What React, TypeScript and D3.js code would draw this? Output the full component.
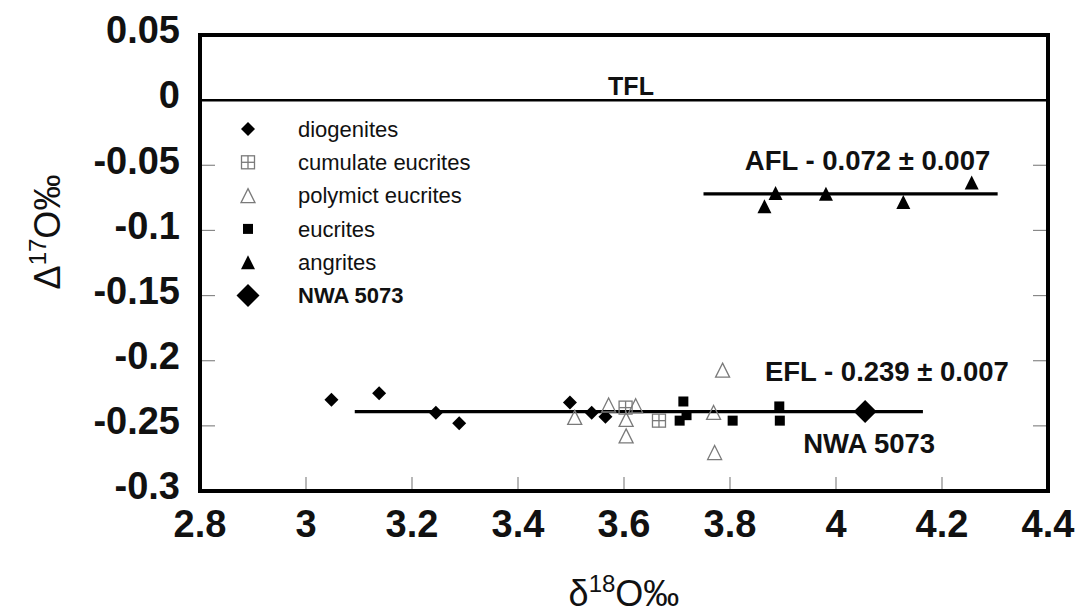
import React from "react";
import * as d3 from "d3";

// delta18O, Delta17O pairs
const diogenites: [number, number][] = [
  [3.048, -0.23],
  [3.138, -0.225],
  [3.245, -0.24],
  [3.289, -0.248],
  [3.498, -0.232],
  [3.539, -0.24],
  [3.565, -0.243],
];
const cumulateEucrites: [number, number][] = [
  [3.603, -0.236],
  [3.666, -0.246],
];
const polymictEucrites: [number, number][] = [
  [3.507, -0.2435],
  [3.571, -0.234],
  [3.622, -0.2346],
  [3.604, -0.245],
  [3.604, -0.2577],
  [3.769, -0.2397],
  [3.771, -0.2705],
  [3.786, -0.2072],
];
const eucrites: [number, number][] = [
  [3.712, -0.2313],
  [3.705, -0.246],
  [3.718, -0.2418],
  [3.805, -0.246],
  [3.893, -0.2351],
  [3.894, -0.246],
];
const angrites: [number, number][] = [
  [3.865, -0.0815],
  [3.886, -0.0713],
  [3.981, -0.0718],
  [4.127, -0.0782],
  [4.256, -0.0633],
];
const nwa5073: [number, number][] = [[4.055, -0.239]];

// fractionation lines: value, x start, x end
const TFL = { y: 0, x0: 2.8, x1: 4.4 };
const AFL = { y: -0.072, x0: 3.75, x1: 4.305 };
const EFL = { y: -0.239, x0: 3.092, x1: 4.164 };

const xTicks = [2.8, 3, 3.2, 3.4, 3.6, 3.8, 4, 4.2, 4.4];
const yTicks = [0.05, 0, -0.05, -0.1, -0.15, -0.2, -0.25, -0.3];

const legendItems = [
  { name: "diogenites", kind: "diamond" },
  { name: "cumulate eucrites", kind: "cumulate" },
  { name: "polymict eucrites", kind: "openTri" },
  { name: "eucrites", kind: "square" },
  { name: "angrites", kind: "tri" },
  { name: "NWA 5073", kind: "bigDiamond" },
];

const FONT = "'Liberation Sans', Arial, Helvetica, sans-serif";

function Marker({ kind, x, y }: { kind: string; x: number; y: number }) {
  if (kind === "diamond" || kind === "bigDiamond") {
    const s = kind === "diamond" ? 7 : 11.5;
    return <path d={`M${x},${y - s}L${x + s},${y}L${x},${y + s}L${x - s},${y}Z`} fill="#000" />;
  }
  if (kind === "square") {
    return <rect x={x - 5} y={y - 5} width={10} height={10} fill="#000" />;
  }
  if (kind === "cumulate") {
    const h = 6.5;
    return (
      <g stroke="#7a7a7a" strokeWidth={1.3} fill="none">
        <rect x={x - h} y={y - h} width={2 * h} height={2 * h} />
        <line x1={x} x2={x} y1={y - h} y2={y + h} />
        <line x1={x - h} x2={x + h} y1={y} y2={y} />
      </g>
    );
  }
  const h = 7;
  const d = `M${x},${y - h}L${x + h},${y + h}L${x - h},${y + h}Z`;
  if (kind === "tri") return <path d={d} fill="#000" />;
  return <path d={d} fill="none" stroke="#7a7a7a" strokeWidth={1.3} />;
}

export default function App() {
  const x = d3.scaleLinear().domain([2.8, 4.4]).range([200, 1048]);
  const y = d3.scaleLinear().domain([-0.3, 0.05]).range([491, 35]);
  const [left, right] = x.range();
  const [bottom, top] = y.range();

  const series = [
    { data: diogenites, kind: "diamond" },
    { data: cumulateEucrites, kind: "cumulate" },
    { data: polymictEucrites, kind: "openTri" },
    { data: eucrites, kind: "square" },
    { data: angrites, kind: "tri" },
    { data: nwa5073, kind: "bigDiamond" },
  ];

  return (
    <svg
      width={1082}
      height={616}
      style={{ position: "absolute", left: 0, top: 0, background: "#fff" }}
      fontFamily={FONT}
    >
      <rect width={1082} height={616} fill="#fff" />

      {/* inner ticks */}
      <g stroke="#888" strokeWidth={1.2}>
        {yTicks.map((t) => (
          <g key={"y" + t}>
            <line x1={left} x2={left + 15} y1={y(t)} y2={y(t)} />
            <line x1={right - 15} x2={right} y1={y(t)} y2={y(t)} />
          </g>
        ))}
        {xTicks.map((t) => (
          <line key={"x" + t} x1={x(t)} x2={x(t)} y1={bottom} y2={bottom - 14} />
        ))}
      </g>

      {/* tick labels */}
      <g fontSize={38} fontWeight="bold" fill="#111">
        {yTicks.map((t) => (
          <text key={"yl" + t} x={180} y={y(t) - 5} dy="0.35em" textAnchor="end">
            {String(+t.toFixed(2))}
          </text>
        ))}
        {xTicks.map((t) => (
          <text key={"xl" + t} x={x(t)} y={537} textAnchor="middle">
            {String(+t.toFixed(1))}
          </text>
        ))}
      </g>

      {/* axis titles */}
      <text x={624} y={606} textAnchor="middle" fontSize={36} fill="#111">
        δ<tspan fontSize={24} dy={-14}>18</tspan>
        <tspan dy={14}>O‰</tspan>
      </text>
      <text
        transform="translate(60,232) rotate(-90)"
        textAnchor="middle"
        fontSize={36}
        fill="#111"
      >
        Δ<tspan fontSize={24} dy={-14}>17</tspan>
        <tspan dy={14}>O‰</tspan>
      </text>

      {/* fractionation lines */}
      <g stroke="#000">
        <line x1={x(TFL.x0)} x2={x(TFL.x1)} y1={y(TFL.y)} y2={y(TFL.y)} strokeWidth={2.5} />
        <line x1={x(AFL.x0)} x2={x(AFL.x1)} y1={y(AFL.y)} y2={y(AFL.y)} strokeWidth={3.2} />
        <line x1={x(EFL.x0)} x2={x(EFL.x1)} y1={y(EFL.y)} y2={y(EFL.y)} strokeWidth={3.2} />
      </g>

      {/* points */}
      {series.map((s) =>
        s.data.map((p, i) => <Marker key={s.kind + i} kind={s.kind} x={x(p[0])} y={y(p[1])} />)
      )}

      {/* line annotations */}
      <g fontWeight="bold" fill="#111">
        <text x={x(3.57)} y={y(0.0038)} fontSize={25}>TFL</text>
        <text x={x(3.828)} y={y(-0.0538)} fontSize={27.5}>AFL - 0.072 ± 0.007</text>
        <text x={x(3.866)} y={y(-0.2154)} fontSize={27.5}>EFL - 0.239 ± 0.007</text>
        <text x={x(3.938)} y={y(-0.2708)} fontSize={27.5}>NWA 5073</text>
      </g>

      {/* legend */}
      <g fontSize={22} fill="#111">
        {legendItems.map((item, i) => {
          const cy = 129 + i * 33.3;
          return (
            <g key={item.name}>
              <Marker kind={item.kind} x={248} y={cy} />
              <text
                x={298}
                y={cy}
                dy="0.35em"
                fontWeight={item.kind === "bigDiamond" ? "bold" : "normal"}
              >
                {item.name}
              </text>
            </g>
          );
        })}
      </g>

      {/* frame */}
      <rect
        x={left}
        y={top}
        width={right - left}
        height={bottom - top}
        fill="none"
        stroke="#000"
        strokeWidth={4}
      />
    </svg>
  );
}
